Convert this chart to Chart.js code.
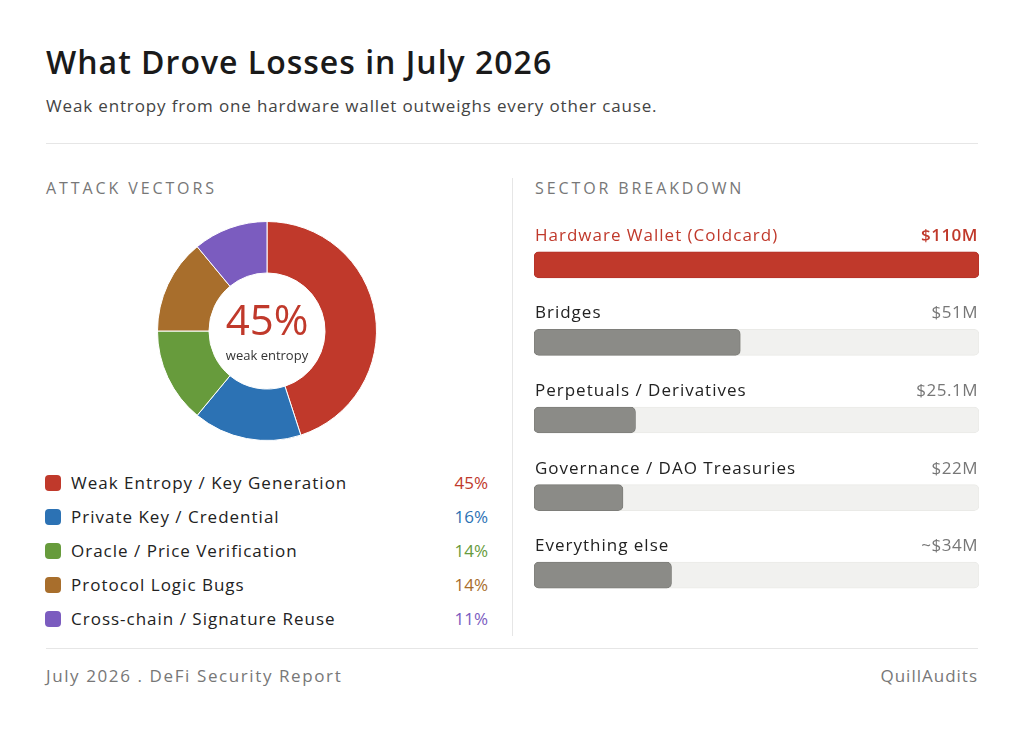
<!DOCTYPE html>
<html>
<head>
<meta charset="utf-8">
<script src="https://cdn.jsdelivr.net/npm/chart.js@4/dist/chart.umd.min.js"></script>
<style>
  body { margin: 0; background: #fff; font-family: "Open Sans", sans-serif; color: #222; }
  #page { position: relative; width: 1024px; height: 733px; overflow: hidden; }
  .abs { position: absolute; white-space: nowrap; }
  .title { left: 46px; top: 46px; font-size: 32px; line-height: 32px; font-weight: 600; color: #1a1a1a; letter-spacing: 1px; }
  .sub { left: 46px; top: 97px; font-size: 17px; line-height: 17px; color: #444; letter-spacing: 0.85px; }
  .head { top: 180px; font-size: 16px; line-height: 16px; color: #777; letter-spacing: 2.9px; }
  .hr { position: absolute; left: 46px; width: 932px; height: 1px; background: #e6e6e6; }
  .vr { position: absolute; left: 512px; top: 178px; width: 1px; height: 458px; background: #e6e6e6; }
  .row { position: absolute; left: 45px; width: 443px; height: 20px; font-size: 17px; line-height: 20px; }
  .sw { position: absolute; left: 0; top: 2px; width: 16px; height: 16px; border-radius: 4px; }
  .lbl { position: absolute; left: 26px; top: 0; letter-spacing: 1px; }
  .pct { position: absolute; right: 0; top: 0; }
  .foot { top: 667px; font-size: 17px; line-height: 17px; color: #777; letter-spacing: 1.6px; }
</style>
</head>
<body>
<div id="page">
  <div class="abs title">What Drove Losses in July 2026</div>
  <div class="abs sub">Weak entropy from one hardware wallet outweighs every other cause.</div>
  <div class="hr" style="top:143px"></div>
  <div class="abs head" style="left:46px">ATTACK VECTORS</div>
  <div class="abs head" style="left:535px">SECTOR BREAKDOWN</div>
  <div class="vr"></div>
  <div class="abs" style="left:157px; top:221px; width:220px; height:220px;"><canvas id="donut"></canvas></div>
  <div id="legend"></div>
  <div class="abs" style="left:533px; top:226px; width:447px; height:388px;"><canvas id="bars"></canvas></div>
  <div class="hr" style="top:648px"></div>
  <div class="abs foot" style="left:46px">July 2026 . DeFi Security Report</div>
  <div class="abs foot" style="right:46px; letter-spacing:1px">QuillAudits</div>
</div>
<script>
const vectors = ["Weak Entropy / Key Generation", "Private Key / Credential", "Oracle / Price Verification", "Protocol Logic Bugs", "Cross-chain / Signature Reuse"];
const vectorShares = [45, 16, 14, 14, 11];
const vectorColors = ["#c0392b", "#2c72b4", "#679b3c", "#a86e2c", "#7b5cbf"];

const sectors = ["Hardware Wallet (Coldcard)", "Bridges", "Perpetuals / Derivatives", "Governance / DAO Treasuries", "Everything else"];
const sectorLosses = [110, 51, 25.1, 22, 34];
const sectorValueLabels = ["$110M", "$51M", "$25.1M", "$22M", "~$34M"];
const sectorMax = 110;

const red = "#c0392b";
const font = '"Open Sans", sans-serif';

// legend rows
const legend = document.getElementById("legend");
vectors.forEach((name, i) => {
  const row = document.createElement("div");
  row.className = "row";
  row.style.top = (473 + i * 34) + "px";
  row.innerHTML = '<span class="sw" style="background:' + vectorColors[i] + '"></span>' +
    '<span class="lbl">' + name + '</span>' +
    '<span class="pct" style="color:' + vectorColors[i] + '">' + vectorShares[i] + '%</span>';
  legend.appendChild(row);
});

const centerText = {
  id: "centerText",
  afterDraw(chart) {
    const ctx = chart.ctx;
    const a = chart.chartArea;
    const cx = (a.left + a.right) / 2, cy = (a.top + a.bottom) / 2;
    ctx.save();
    ctx.textAlign = "center";
    ctx.textBaseline = "alphabetic";
    ctx.fillStyle = red;
    ctx.font = "500 42px " + font;
    ctx.fillText(vectorShares[0] + "%", cx, cy + 4);
    ctx.fillStyle = "#333";
    ctx.font = "13px " + font;
    ctx.fillText("weak entropy", cx, cy + 29);
    ctx.restore();
  }
};

new Chart(document.getElementById("donut"), {
  type: "doughnut",
  data: {
    labels: vectors,
    datasets: [{ data: vectorShares, backgroundColor: vectorColors, borderColor: "#fff", borderWidth: 1 }]
  },
  options: {
    responsive: true,
    maintainAspectRatio: false,
    animation: false,
    cutout: "53%",
    plugins: { legend: { display: false }, tooltip: { enabled: false } }
  },
  plugins: [centerText]
});

const barText = {
  id: "barText",
  afterDatasetsDraw(chart) {
    const ctx = chart.ctx;
    const meta = chart.getDatasetMeta(1);
    const a = chart.chartArea;
    ctx.save();
    ctx.textBaseline = "alphabetic";
    meta.data.forEach((bar, i) => {
      const top = bar.y - bar.height / 2;
      ctx.letterSpacing = "1px";
      ctx.font = "17px " + font;
      ctx.textAlign = "left";
      ctx.fillStyle = i === 0 ? red : "#222";
      ctx.fillText(sectors[i], a.left + 1, top - 11);
      ctx.letterSpacing = "0.5px";
      ctx.textAlign = "right";
      ctx.fillStyle = i === 0 ? red : "#777";
      ctx.font = (i === 0 ? "600 " : "") + "17px " + font;
      ctx.fillText(sectorValueLabels[i], a.right - 1, top - 11);
    });
    ctx.restore();
  }
};

new Chart(document.getElementById("bars"), {
  type: "bar",
  data: {
    labels: sectors,
    datasets: [
      {
        data: sectorLosses,
        backgroundColor: sectorLosses.map((v, i) => i === 0 ? red : "#8b8b87"),
        borderColor: sectorLosses.map((v, i) => i === 0 ? "#b5332a" : "#7e7e7a"),
        borderWidth: 1,
        borderRadius: 5,
        borderSkipped: false,
        barThickness: 26,
        grouped: false,
        order: 1
      },
      {
        data: sectors.map(() => sectorMax),
        backgroundColor: "#f1f1ef",
        borderColor: "#eaeae7",
        borderWidth: 1,
        borderRadius: 5,
        borderSkipped: false,
        barThickness: 26,
        grouped: false,
        order: 2
      }
    ]
  },
  options: {
    indexAxis: "y",
    responsive: true,
    maintainAspectRatio: false,
    animation: false,
    layout: { padding: { left: 1, right: 1 } },
    scales: {
      x: { display: false, min: 0, max: sectorMax },
      y: { display: false }
    },
    plugins: { legend: { display: false }, tooltip: { enabled: false } }
  },
  plugins: [barText]
});
</script>
</body>
</html>
